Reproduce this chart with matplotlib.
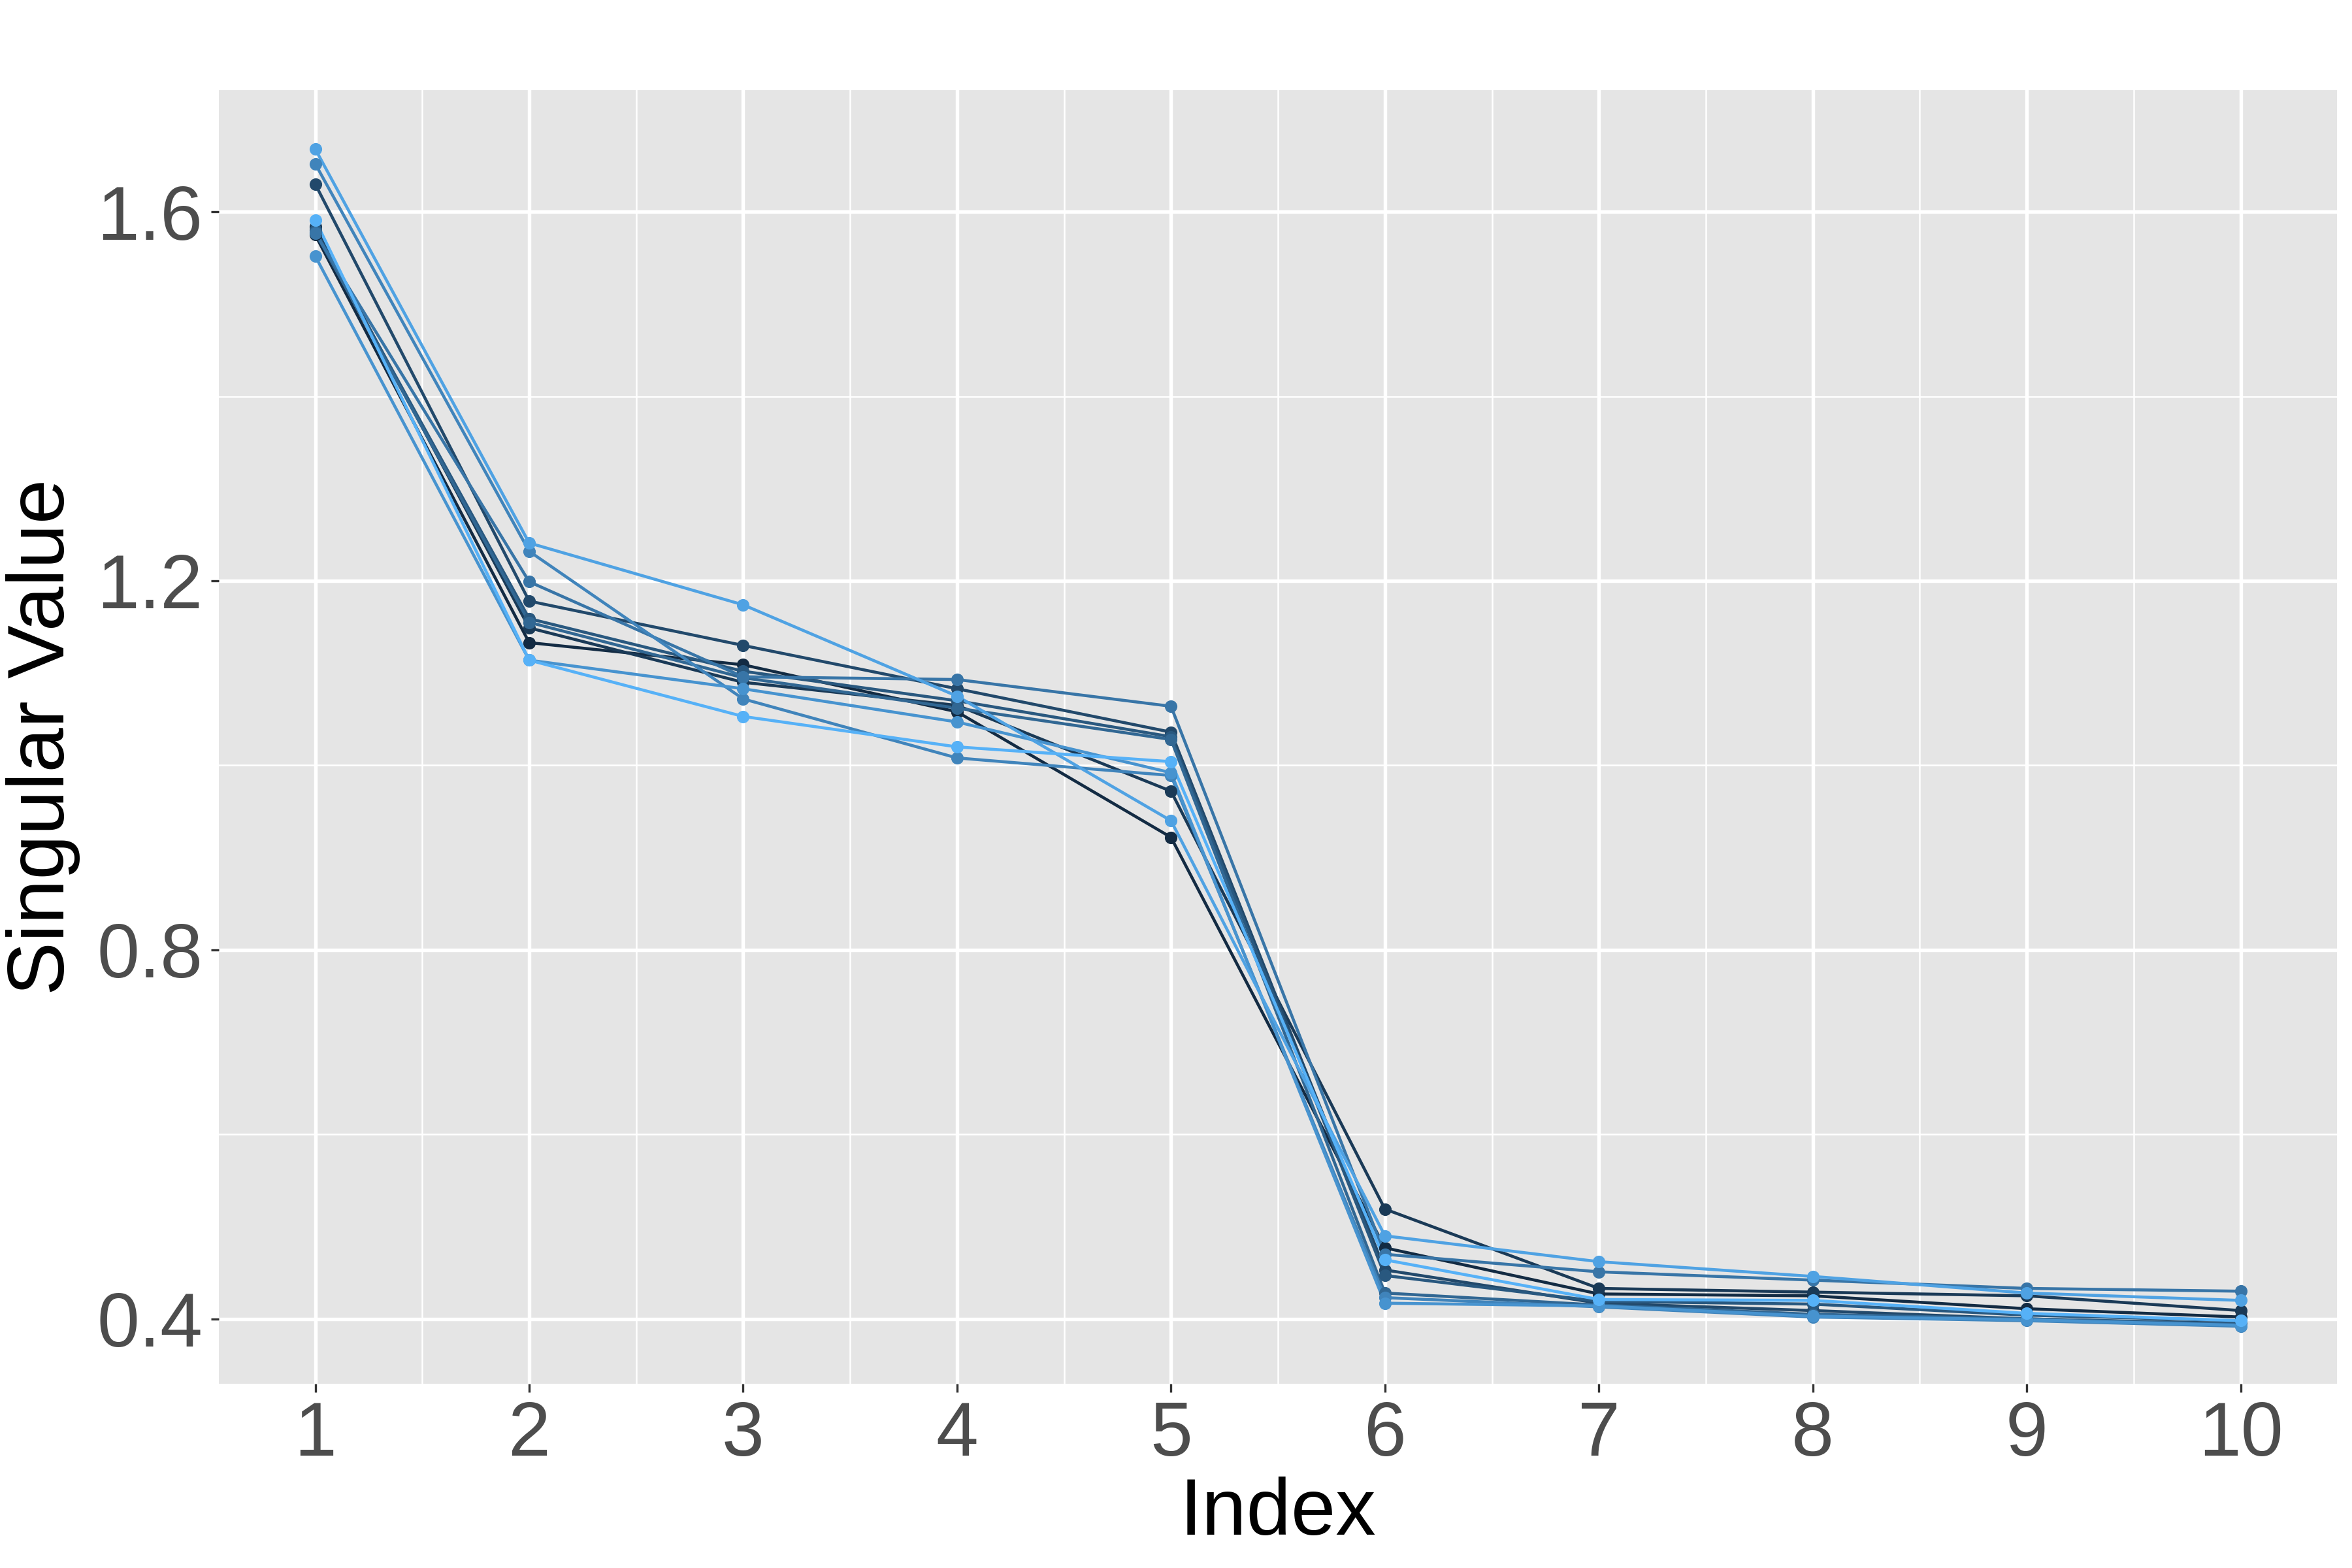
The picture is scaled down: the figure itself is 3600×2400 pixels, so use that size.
import numpy as np
import matplotlib.pyplot as plt
from matplotlib.colors import to_rgb

plt.rcParams['font.family'] = ['Liberation Sans', 'DejaVu Sans']

# singular values, one list per run (dark -> light colour)
index = list(range(1, 11))
run0 = [1.575, 1.133, 1.109, 1.058, 0.922, 0.477, 0.427, 0.425, 0.411, 0.402]
run1 = [1.584, 1.149, 1.090, 1.065, 0.972, 0.519, 0.433, 0.429, 0.425, 0.409]
run2 = [1.630, 1.178, 1.130, 1.083, 1.036, 0.453, 0.417, 0.409, 0.400, 0.395]
run3 = [1.580, 1.159, 1.102, 1.070, 1.031, 0.447, 0.419, 0.416, 0.404, 0.398]
run4 = [1.578, 1.155, 1.095, 1.062, 1.028, 0.428, 0.415, 0.405, 0.400, 0.394]
run5 = [1.577, 1.199, 1.096, 1.093, 1.064, 0.470, 0.451, 0.442, 0.433, 0.430]
run6 = [1.652, 1.232, 1.072, 1.008, 0.989, 0.423, 0.413, 0.402, 0.398, 0.392]
run7 = [1.552, 1.114, 1.083, 1.047, 0.992, 0.417, 0.414, 0.403, 0.399, 0.393]
run8 = [1.668, 1.241, 1.174, 1.075, 0.940, 0.490, 0.462, 0.446, 0.428, 0.420]
run9 = [1.591, 1.114, 1.053, 1.020, 1.004, 0.464, 0.421, 0.420, 0.406, 0.398]
runs = [run0, run1, run2, run3, run4, run5, run6, run7, run8, run9]

y_ticks = [0.4, 0.8, 1.2, 1.6]
y_labels = ['0.4', '0.8', '1.2', '1.6']

# ggplot default continuous gradient
low = np.array(to_rgb('#132B43'))
high = np.array(to_rgb('#56B1F7'))
colors = [low + (high - low) * t for t in np.linspace(0, 1, len(runs))]

fig = plt.figure(figsize=(12, 8), dpi=300)
ax = fig.add_axes([0.0931, 0.1177, 0.9005, 0.8249])
ax.set_facecolor('#E5E5E5')

for vals, c in zip(runs, colors):
    ax.plot(index, vals, color=c, lw=1.1, zorder=3)
for vals, c in zip(runs, colors):
    ax.plot(index, vals, 'o', color=c, ms=4.6, mec='none', zorder=4)

ax.set_xlim(0.55, 10.45)
ax.set_ylim(0.33, 1.732)
ax.set_xticks(index)
ax.set_xticklabels([str(i) for i in index])
ax.set_yticks(y_ticks)
ax.set_yticklabels(y_labels)
ax.set_xticks(np.arange(1.5, 10, 1), minor=True)
ax.set_yticks([0.6, 1.0, 1.4], minor=True)
ax.grid(which='major', color='white', lw=1.3, zorder=1)
ax.grid(which='minor', color='white', lw=0.6, zorder=1)
ax.set_axisbelow(True)
for s in ax.spines.values():
    s.set_visible(False)

ax.tick_params(which='major', length=3, width=0.8, color='#333333',
               labelsize=28, labelcolor='#4D4D4D', pad=3)
ax.tick_params(which='minor', length=0)
ax.set_xlabel('Index', fontsize=29.5, labelpad=2)
ax.set_ylabel('Singular Value', fontsize=29.5, labelpad=6)

fig.savefig('out.png', dpi=300, facecolor='white')
